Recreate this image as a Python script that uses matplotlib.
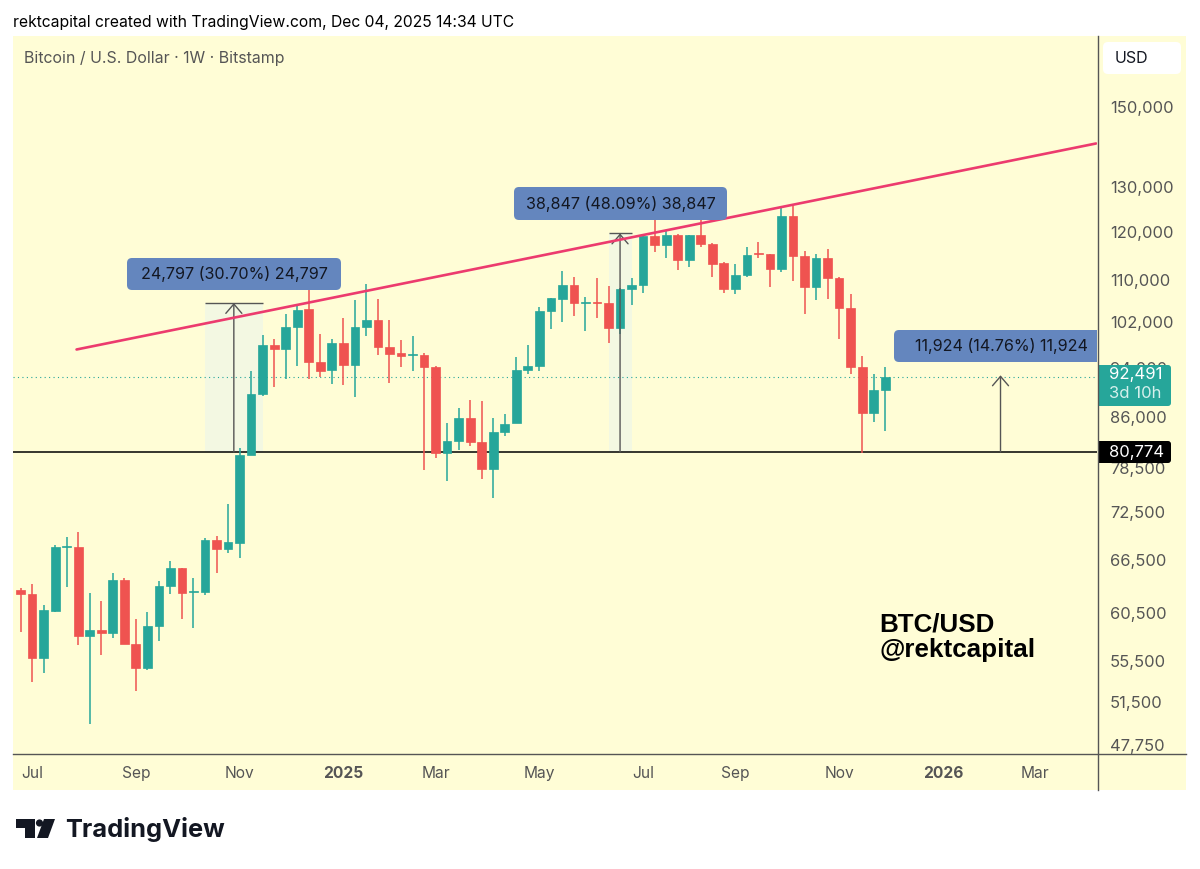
import numpy as np
import pandas as pd
import matplotlib
matplotlib.use('Agg')
import matplotlib.pyplot as plt
from matplotlib.patches import FancyBboxPatch, Polygon, Circle, Rectangle

# =============================================================================
# Weekly candles
# =============================================================================
weeks = pd.date_range('2024-06-24', periods=76, freq='7D')
opens = [63050,62560,55760,60720,68120,68150,58050,58640,58320,64150,57180,54770,59030,63460,65550,62750,62750,68980,67820,68610,
         80310,89610,97930,97100,101070,104340,94910,93510,98210,94400,101070,102430,97580,96410,96110,96180,94130,80590,82450,85930,
         82260,78270,83650,85060,93560,94180,104020,106370,108940,105530,105790,105530,100840,108220,109000,118960,117120,119330,114090,119180,
         117410,113390,108160,110970,115390,115180,112120,123320,114910,108550,114350,110380,104530,94060,86660,90210]
highs = [63280,63690,61300,68310,69270,69980,62670,61770,64960,64430,59780,60610,64030,66380,65550,64380,69230,69390,73500,81380,
         93390,99700,98860,103540,105090,108160,99760,98860,102670,106100,109270,106290,102430,98810,99450,96410,94300,85120,87450,88650,
         88440,85930,86400,95720,97800,104850,106560,111850,110650,106670,110460,108800,108350,110320,118960,123160,120250,119540,119240,124500,
         117480,113530,113270,116700,117750,115320,125260,125620,115800,115320,116280,110650,107250,95890,92950,94060]
lows = [58430,53470,54280,60640,63390,57120,49560,56060,57840,57180,52590,54610,57460,62560,59850,58820,62410,64960,67420,66780,
        80260,89290,90740,92060,94230,92120,92390,91300,91180,89130,99400,96110,91460,94010,93390,78170,79930,76600,81090,81570,
        77010,74390,83050,85060,92840,93340,100660,101990,103090,100350,102720,98210,99760,105090,107520,115660,114420,111910,112580,116780,
        110570,107380,107250,110650,114350,108610,111570,109720,103540,106100,106290,98860,92890,80590,85210,83800]
closes = [62560,55760,60750,68070,68240,58050,58640,58320,64150,57220,54770,59030,63460,65550,62710,62890,68980,67790,68650,80360,
          89670,97930,97160,101070,104210,94910,93390,98160,94400,101070,102430,97580,96290,95940,96360,94130,80590,82410,85930,82260,
          78270,83650,85010,93560,94180,104020,106420,108940,105600,105790,105530,100840,108290,109070,118960,117200,119330,114090,119240,117330,
          113270,108160,110970,115120,115180,112120,123320,114910,108550,114350,110380,104660,94060,86660,90210,92491]

price_ticks = [150000,130000,120000,110000,102000,94000,86000,78500,72500,66500,60500,55500,51500,47750]
month_dates = pd.to_datetime(['2024-07-01','2024-09-02','2024-11-04','2025-01-06','2025-03-03','2025-05-05',
                              '2025-07-07','2025-09-01','2025-11-03','2026-01-05','2026-03-02'])
month_labels = ['Jul','Sep','Nov','2025','Mar','May','Jul','Sep','Nov','2026','Mar']
support = 80774
last_price = 92491
trend_dates = pd.to_datetime(['2024-07-28','2026-04-08'])
trend_prices = [97100,140600]

UP = '#26A69A'
DOWN = '#EF5350'
YELLOW = '#FFFDD6'
BLUE = '#6486BE'
GREY = '#555555'
INK = '#131722'
plt.rcParams['font.family'] = ['Inter', 'DejaVu Sans']

# =============================================================================
# Background and price chart
# =============================================================================
fig = plt.figure(figsize=(12,8.69), dpi=100, facecolor='white')
bg = fig.add_axes([0,0,1,1], zorder=0)
bg.set_xlim(0,1200); bg.set_ylim(869,0); bg.axis('off')
bg.add_patch(Rectangle((13,36),1173,754, color=YELLOW, lw=0))

ax = fig.add_axes([13/1200, 1-754/869, 1084/1200, 718/869], zorder=1)
ax.patch.set_alpha(0)
ax.set_yscale('log')

def measure(dm, top, d0=None, d1=None):
    if d0 is not None:
        ax.fill_between([d0,d1],[support,support],[top,top], color='#F3F8E2', lw=0, zorder=1)
        ax.hlines(top, d0, d1, color=GREY, lw=1, zorder=4)
    ax.annotate('', xy=(dm,top), xytext=(dm,support), zorder=4,
                arrowprops=dict(arrowstyle='->,head_length=0.42,head_width=0.36', color=GREY, lw=1,
                                shrinkA=0, shrinkB=0, mutation_scale=16))

measure(pd.Timestamp('2024-10-31 12:00'), support+24797, pd.Timestamp('2024-10-14'), pd.Timestamp('2024-11-18'))
measure(pd.Timestamp('2025-06-23'), support+38847, pd.Timestamp('2025-06-16'), pd.Timestamp('2025-06-30'))
measure(pd.Timestamp('2026-02-09'), support+11924)

ax.axhline(support, color='black', lw=1.1, zorder=2)
ax.axhline(last_price, color=UP, lw=0.8, ls=(0,(1,3)), zorder=2)

opens = np.array(opens)
closes = np.array(closes)
colors = [UP if c >= o else DOWN for o, c in zip(opens, closes)]
ax.vlines(weeks, lows, highs, colors=colors, lw=1.1, zorder=3)
body_low = np.minimum(opens,closes)
body_high = np.maximum(opens,closes)
ax.bar(weeks, body_high-body_low, bottom=body_low, width=5.3, color=colors, edgecolor=colors, lw=0.5, zorder=3)
ax.plot(trend_dates, trend_prices, color='#EC3B6E', lw=1.9, zorder=5, solid_capstyle='round')

ax.set_xlim(pd.Timestamp('2024-06-19 10:00'), pd.Timestamp('2026-04-08 14:00'))
ax.set_ylim(46942,170553)
for s in ax.spines.values():
    s.set_visible(False)
ax.yaxis.tick_right()
ax.set_yticks(price_ticks, [f'{p:,}' for p in price_ticks])
ax.minorticks_off()
ax.tick_params(axis='y', length=0, pad=9.3, labelsize=11.9, labelcolor=GREY)
ax.set_xticks(month_dates, month_labels)
ax.tick_params(axis='x', length=0, pad=8.5, labelsize=11.2, labelcolor=GREY)
for lab in ax.get_xticklabels():
    if lab.get_text() in ('2025','2026'):
        lab.set_fontweight('bold')

# =============================================================================
# Frame, labels and tags on top
# =============================================================================
top = fig.add_axes([0,0,1,1], zorder=2)
top.set_xlim(0,1200); top.set_ylim(869,0); top.axis('off'); top.patch.set_alpha(0)
top.plot([13,1186],[754,754], color=GREY, lw=1)
top.plot([1097.5,1097.5],[36,790], color=GREY, lw=1)

def rbox(x0,y0,x1,y1,color,clip=None,r=5):
    p = FancyBboxPatch((x0+r,y0+r), x1-x0-2*r, y1-y0-2*r, boxstyle=f'round,pad={r},rounding_size={r}',
                       fc=color, ec='none', mutation_aspect=1)
    top.add_patch(p)
    if clip is not None:
        p.set_clip_path(clip)
    return p

for x0,x1,y0,y1,txt in [(127,341,258,290,'24,797 (30.70%) 24,797'),(514,727,187,220,'38,847 (48.09%) 38,847')]:
    rbox(x0,y0,x1,y1,BLUE)
    top.text((x0+x1)/2,(y0+y1)/2,txt,ha='center',va='center',fontsize=11.6,color=INK)
rbox(894,330,1120,362,BLUE,clip=Rectangle((0,0),1097,869, transform=top.transData))
top.text(1001,346,'11,924 (14.76%) 11,924',ha='center',va='center',fontsize=11.6,color=INK)

right_side = Rectangle((1098,0),102,869, transform=top.transData)
rbox(1090,365,1171,406,UP,clip=right_side,r=3)
top.text(1109,375,f'{last_price:,}',va='center',fontsize=12,color='white')
top.text(1109,393,'3d 10h',va='center',fontsize=12,color='#D5F0EC')
rbox(1090,441,1171,463,'black',clip=right_side,r=3)
top.text(1109,452,f'{support:,}',va='center',fontsize=12,color='white')
rbox(1103,42,1181,74,'white')
top.text(1115,58.5,'USD',va='center',fontsize=11.5,color=INK)

top.text(13,23,'rektcapital created with TradingView.com, Dec 04, 2025 14:34 UTC',va='center',fontsize=11.3,color='black')
top.text(24,59,'Bitcoin / U.S. Dollar · 1W · Bitstamp',va='center',fontsize=11.45,color=GREY)
top.text(879.5,624,'BTC/USD',va='center',fontsize=18.7,fontweight='bold',family='Liberation Sans',color='black')
top.text(879.5,650,'@rektcapital',va='center',fontsize=18.7,fontweight='bold',family='Liberation Sans',color='black')

# logo
top.add_patch(Polygon([(16,819),(35,819),(35,838),(25,838),(25,828),(16,828)], closed=True, color=INK, lw=0))
top.add_patch(Circle((39.5,823),3.6, color=INK, lw=0))
top.add_patch(Polygon([(44,819),(55,819),(48,838),(37,838)], closed=True, color=INK, lw=0))
top.text(65,829,'TradingView',va='center',fontsize=18.3,fontweight='bold',color=INK)

fig.savefig('out.png')
